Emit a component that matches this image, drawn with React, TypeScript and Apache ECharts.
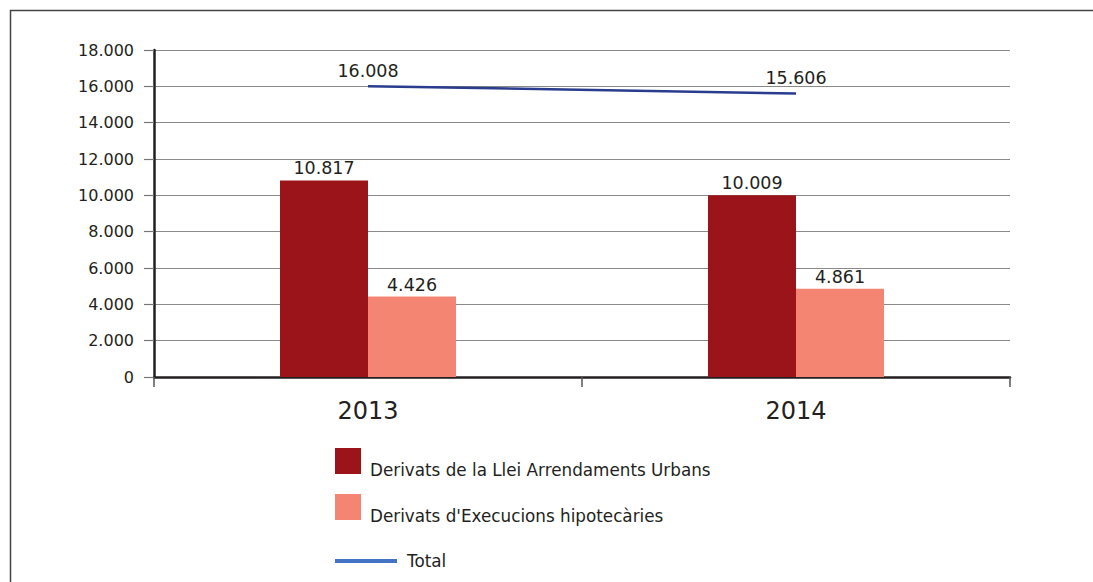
import React, { useEffect, useRef } from "react";
import * as echarts from "echarts";

const categories = ["2013", "2014"];
const llei = [10817, 10009];
const hipotecaries = [4426, 4861];
const total = [16008, 15606];
const seriesNames = [
  "Derivats de la Llei Arrendaments Urbans",
  "Derivats d'Execucions hipotecàries",
  "Total",
];

const fmt = (v: number) =>
  String(Math.round(v)).replace(/\B(?=(\d{3})+(?!\d))/g, ".");

const FONT = "'DejaVu Sans', sans-serif";

export default function App() {
  const ref = useRef<HTMLDivElement>(null);
  useEffect(() => {
    if (!ref.current) return;
    const chart = echarts.init(ref.current, undefined, { renderer: "svg" });
    const labelStyle = {
      show: true,
      position: "top" as const,
      color: "#231f20",
      fontSize: 17.5,
      fontFamily: FONT,
      distance: 3,
      formatter: (p: any) => fmt(p.value),
    };
    chart.setOption({
      animation: false,
      backgroundColor: "#ffffff",
      textStyle: { fontFamily: FONT },
      grid: { left: 154, top: 50, right: 83, bottom: 205, containLabel: false },
      xAxis: {
        type: "category",
        data: categories,
        boundaryGap: true,
        axisLine: { lineStyle: { color: "#231f20", width: 2.5 } },
        axisTick: { show: true, length: 10, lineStyle: { color: "#555", width: 1.5 } },
        axisLabel: { color: "#231f20", fontSize: 24, margin: 22, fontFamily: FONT },
      },
      yAxis: {
        type: "value",
        min: 0,
        max: 18000,
        interval: 2000,
        axisLine: { show: true, lineStyle: { color: "#231f20", width: 2.5 } },
        axisTick: { show: true, length: 10, lineStyle: { color: "#777", width: 1.2 } },
        axisLabel: {
          color: "#231f20",
          fontSize: 16,
          margin: 20,
          fontFamily: FONT,
          formatter: (v: number) => fmt(v),
        },
        splitLine: { show: true, lineStyle: { color: "#8a8a8a", width: 1.2 } },
      },
      series: [
        {
          name: seriesNames[0],
          type: "bar",
          data: llei,
          barWidth: 88,
          barGap: "0%",
          itemStyle: { color: "#9b1419" },
          label: labelStyle,
        },
        {
          name: seriesNames[1],
          type: "bar",
          data: hipotecaries,
          barWidth: 88,
          barGap: "0%",
          itemStyle: { color: "#f58573" },
          label: labelStyle,
        },
        {
          name: seriesNames[2],
          type: "line",
          data: total,
          symbol: "circle",
          symbolSize: 1,
          showSymbol: true,
          itemStyle: { color: "rgba(0,0,0,0)" },
          lineStyle: { color: "#2a3c8e", width: 2.5 },
          label: { ...labelStyle, distance: 6 },
          z: 5,
        },
      ],
      graphic: [
        {
          type: "rect",
          shape: { x: 10.5, y: 10.5, width: 1200, height: 800 },
          style: { fill: "none", stroke: "#444", lineWidth: 1.5 },
          silent: true,
        },
        {
          type: "rect",
          shape: { x: 335, y: 448, width: 26, height: 26 },
          style: { fill: "#9b1419" },
        },
        {
          type: "text",
          x: 370,
          y: 470,
          style: {
            text: seriesNames[0],
            fontSize: 16.8,
            fontFamily: FONT,
            fill: "#231f20",
            verticalAlign: "middle",
          },
        },
        {
          type: "rect",
          shape: { x: 335, y: 494, width: 26, height: 26 },
          style: { fill: "#f58573" },
        },
        {
          type: "text",
          x: 370,
          y: 516,
          style: {
            text: seriesNames[1],
            fontSize: 16.8,
            fontFamily: FONT,
            fill: "#231f20",
            verticalAlign: "middle",
          },
        },
        {
          type: "line",
          shape: { x1: 335, y1: 561, x2: 397, y2: 561 },
          style: { stroke: "#4472c4", lineWidth: 4 },
        },
        {
          type: "text",
          x: 407,
          y: 561,
          style: {
            text: seriesNames[2],
            fontSize: 16.8,
            fontFamily: FONT,
            fill: "#231f20",
            verticalAlign: "middle",
          },
        },
      ],
    });
    return () => chart.dispose();
  }, []);
  return (
    <div
      ref={ref}
      style={{ position: "fixed", left: 0, top: 0, width: 1093, height: 582 }}
    />
  );
}
